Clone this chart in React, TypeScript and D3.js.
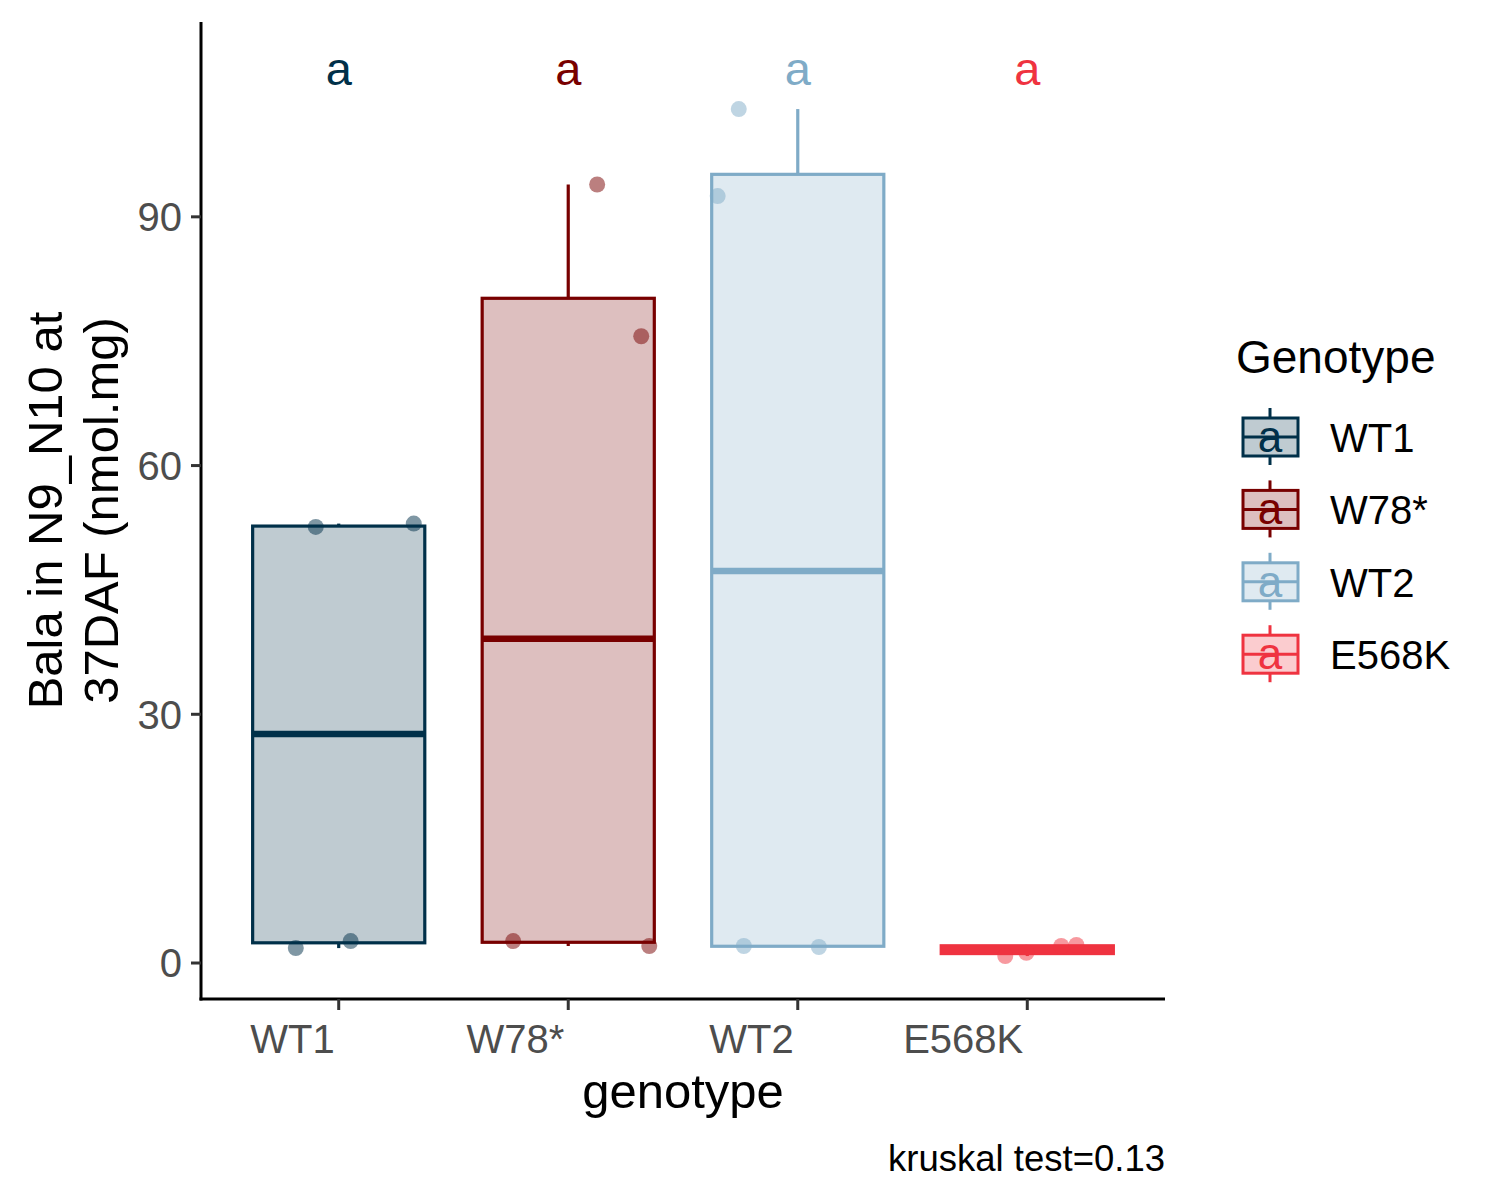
import * as d3 from "d3";

const genotypes = ["WT1", "W78*", "WT2", "E568K"];
const colors = ["#003049", "#780000", "#7FABC7", "#EF3340"];

const valuesWT1 = [52.6, 53.0, 1.8, 2.65];
const valuesW78 = [93.9, 75.6, 2.65, 2.05];
const valuesWT2 = [103.0, 92.5, 2.05, 1.93];
const valuesE568K = [0.84, 1.24, 2.05, 2.17];
const seriesValues = [valuesWT1, valuesW78, valuesWT2, valuesE568K];

// horizontal jitter of each point, in category units
const jitterWT1 = [-0.1, 0.327, -0.187, 0.052];
const jitterW78 = [0.126, 0.318, -0.24, 0.353];
const jitterWT2 = [-0.257, -0.349, -0.235, 0.092];
const jitterE568K = [-0.096, -0.004, 0.148, 0.214];
const seriesJitter = [jitterWT1, jitterW78, jitterWT2, jitterE568K];

const groupLetters = ["a", "a", "a", "a"];
const letterY = 107.5;
const yTicks = [0, 30, 60, 90];
const yDomain: [number, number] = [-4.34, 113.5];

const font = "'Liberation Sans', Arial, sans-serif";

type Stats = { q1: number; med: number; q3: number; lo: number; hi: number };

function boxStats(vals: number[]): Stats {
    const s = [...vals].sort(d3.ascending);
    const q1 = d3.quantile(s, 0.25)!;
    const med = d3.quantile(s, 0.5)!;
    const q3 = d3.quantile(s, 0.75)!;
    const iqr = q3 - q1;
    const lo = d3.min(s.filter((v) => v >= q1 - 1.5 * iqr))!;
    const hi = d3.max(s.filter((v) => v <= q3 + 1.5 * iqr))!;
    return { q1, med, q3, lo, hi };
}

export default function App() {
    const width = 1500;
    const height = 1200;
    const panel = { left: 201, right: 1165, top: 22, bottom: 999 };

    const x = d3.scalePoint<string>().domain(genotypes).range([panel.left, panel.right]).padding(0.6);
    const step = x.step();
    const boxW = step * 0.75;
    const y = d3.scaleLinear().domain(yDomain).range([panel.bottom, panel.top]);

    const legendTop = 437;
    const legendStep = 72.4;

    return (
        <svg
            width={width}
            height={height}
            style={{ position: "absolute", left: 0, top: 0, background: "#fff" }}
            fontFamily={font}
        >
            <rect width={width} height={height} fill="#fff" />

            {/* boxes */}
            {genotypes.map((g, i) => {
                const st = boxStats(seriesValues[i]);
                const cx = x(g)!;
                const c = colors[i];
                return (
                    <g key={g}>
                        <line x1={cx} x2={cx} y1={y(st.q3)} y2={y(st.hi)} stroke={c} strokeWidth={3.2} />
                        <line x1={cx} x2={cx} y1={y(st.q1)} y2={y(st.lo)} stroke={c} strokeWidth={3.2} />
                        <rect
                            x={cx - boxW / 2}
                            y={y(st.q3)}
                            width={boxW}
                            height={y(st.q1) - y(st.q3)}
                            fill={c}
                            fillOpacity={0.25}
                            stroke={c}
                            strokeWidth={3.2}
                        />
                        <line
                            x1={cx - boxW / 2}
                            x2={cx + boxW / 2}
                            y1={y(st.med)}
                            y2={y(st.med)}
                            stroke={c}
                            strokeWidth={6.5}
                        />
                    </g>
                );
            })}

            {/* jittered points */}
            {genotypes.map((g, i) =>
                seriesValues[i].map((v, j) => (
                    <circle
                        key={g + j}
                        cx={x(g)! + seriesJitter[i][j] * step}
                        cy={y(v)}
                        r={8}
                        fill={colors[i]}
                        fillOpacity={0.5}
                    />
                ))
            )}

            {/* group letters */}
            {genotypes.map((g, i) => (
                <text
                    key={"l" + g}
                    x={x(g)}
                    y={y(letterY)}
                    dy="0.28em"
                    textAnchor="middle"
                    fontSize={47}
                    fill={colors[i]}
                >
                    {groupLetters[i]}
                </text>
            ))}

            {/* axes */}
            <line x1={panel.left} x2={panel.left} y1={panel.top} y2={panel.bottom + 1.5} stroke="#000" strokeWidth={3} />
            <line x1={panel.left - 1.5} x2={panel.right} y1={panel.bottom} y2={panel.bottom} stroke="#000" strokeWidth={3} />
            {yTicks.map((t) => (
                <g key={"yt" + t}>
                    <line x1={panel.left - 10} x2={panel.left} y1={y(t)} y2={y(t)} stroke="#333" strokeWidth={3} />
                    <text x={panel.left - 19} y={y(t)} dy="0.36em" textAnchor="end" fontSize={40} fill="#4D4D4D">
                        {t}
                    </text>
                </g>
            ))}
            {genotypes.map((g) => (
                <g key={"xt" + g}>
                    <line x1={x(g)} x2={x(g)} y1={panel.bottom} y2={panel.bottom + 11} stroke="#333" strokeWidth={3} />
                    <text x={x(g)! - 4} y={1053} textAnchor="end" fontSize={40} fill="#4D4D4D">
                        {g}
                    </text>
                </g>
            ))}

            {/* axis titles */}
            <text x={(panel.left + panel.right) / 2} y={1108} textAnchor="middle" fontSize={49} fill="#000">
                genotype
            </text>
            <text transform={`translate(62,${(panel.top + panel.bottom) / 2}) rotate(-90)`} textAnchor="middle" fontSize={49} fill="#000">
                <tspan x={0} y={0}>Bala in N9_N10 at</tspan>
                <tspan x={0} y={56}>37DAF (nmol.mg)</tspan>
            </text>

            <text x={panel.right} y={1171} textAnchor="end" fontSize={36.5} fill="#000">
                kruskal test=0.13
            </text>

            {/* legend */}
            <text x={1236} y={373} fontSize={46} fill="#000">
                Genotype
            </text>
            {genotypes.map((g, i) => {
                const cy = legendTop + i * legendStep;
                const c = colors[i];
                return (
                    <g key={"lg" + g}>
                        <line x1={1270} x2={1270} y1={cy - 29} y2={cy + 28} stroke={c} strokeWidth={3} />
                        <rect x={1243} y={cy - 19} width={55} height={38} fill="#fff" />
                        <rect x={1243} y={cy - 19} width={55} height={38} fill={c} fillOpacity={0.25} stroke={c} strokeWidth={3} />
                        <line x1={1243} x2={1298} y1={cy} y2={cy} stroke={c} strokeWidth={3} />
                        <text x={1270} y={cy + 15} textAnchor="middle" fontSize={44} fill={c}>
                            {groupLetters[i]}
                        </text>
                        <text x={1330} y={cy + 15} fontSize={40} fill="#000">
                            {g}
                        </text>
                    </g>
                );
            })}
        </svg>
    );
}
